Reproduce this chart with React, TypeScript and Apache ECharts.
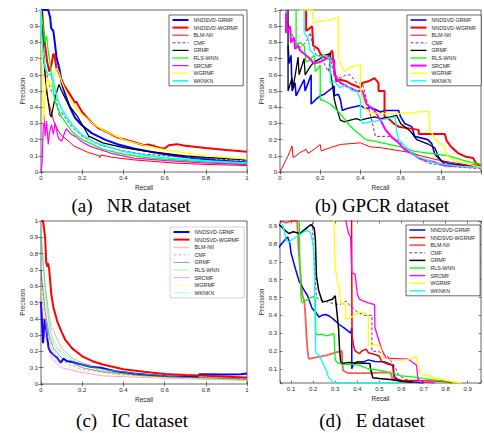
import React, { useEffect, useRef } from 'react';
import * as echarts from 'echarts';

const seriesNames = ['NNDSVD-GRMF', 'NNDSVD-WGRMF', 'BLM-NII', 'CMF', 'GRMF', 'RLS-WNN', 'SRCMF', 'WGRMF', 'WKNKN'];
const panelTitles = ['(a)\u00a0\u00a0 NR dataset', '(b) GPCR dataset', '(c)\u00a0\u00a0 IC dataset', '(d)\u00a0\u00a0 E dataset'];
const xTickLabelsD = ['0.1', '0.2', '0.3', '0.4', '0.5', '0.6', '0.7', '0.8', '0.9'];

// ---------- (a) NR dataset ----------
const nrNndsvdGrmf = [[0,1],[0.035,1],[0.045,0.95],[0.049,0.89],[0.06,0.87],[0.068,0.79],[0.076,0.7],[0.085,0.66],[0.092,0.62],[0.1,0.55],[0.117,0.48],[0.14,0.4],[0.165,0.335],[0.197,0.29],[0.246,0.24],[0.31,0.2],[0.375,0.17],[0.45,0.145],[0.55,0.12],[0.65,0.1],[0.75,0.085],[0.85,0.072],[1,0.058]];
const nrNndsvdWgrmf = [[0.005,1],[0.012,0.88],[0.02,0.78],[0.03,0.68],[0.04,0.62],[0.05,0.66],[0.06,0.73],[0.066,0.72],[0.075,0.64],[0.084,0.62],[0.097,0.58],[0.11,0.54],[0.13,0.5],[0.145,0.47],[0.165,0.427],[0.172,0.435],[0.178,0.417],[0.197,0.376],[0.22,0.34],[0.246,0.304],[0.28,0.27],[0.31,0.253],[0.375,0.211],[0.45,0.185],[0.5,0.165],[0.52,0.17],[0.55,0.16],[0.58,0.148],[0.6,0.145],[0.62,0.165],[0.66,0.172],[0.7,0.162],[0.8,0.148],[0.9,0.136],[1,0.125]];
const nrBlmNii = [[0.003,1],[0.01,0.8],[0.02,0.6],[0.027,0.5],[0.035,0.44],[0.044,0.4],[0.06,0.32],[0.084,0.253],[0.1,0.225],[0.133,0.191],[0.16,0.16],[0.197,0.139],[0.23,0.12],[0.262,0.108],[0.282,0.1],[0.285,0.088],[0.29,0.105],[0.35,0.09],[0.45,0.075],[0.55,0.065],[0.65,0.055],[0.8,0.047],[1,0.04]];
const nrCmf = [[0,1],[0.01,0.8],[0.02,0.66],[0.035,0.56],[0.05,0.5],[0.065,0.47],[0.075,0.44],[0.084,0.376],[0.09,0.34],[0.1,0.37],[0.12,0.33],[0.15,0.28],[0.2,0.22],[0.3,0.16],[0.4,0.13],[0.5,0.11],[0.7,0.09],[1,0.07]];
const nrGrmf = [[0,1],[0.005,0.99],[0.011,0.745],[0.02,0.6],[0.03,0.48],[0.044,0.355],[0.05,0.34],[0.068,0.458],[0.087,0.54],[0.1,0.5],[0.133,0.417],[0.181,0.335],[0.23,0.225],[0.232,0.215],[0.235,0.22],[0.3,0.18],[0.4,0.15],[0.5,0.13],[0.6,0.115],[0.7,0.1],[0.8,0.09],[0.9,0.082],[1,0.075]];
const nrRlsWnn = [[0,1],[0.01,0.9],[0.019,0.8],[0.027,0.84],[0.035,0.745],[0.045,0.66],[0.051,0.6],[0.06,0.5],[0.068,0.437],[0.08,0.4],[0.1,0.34],[0.15,0.25],[0.2,0.2],[0.3,0.14],[0.4,0.11],[0.5,0.09],[0.6,0.08],[0.8,0.063],[1,0.05]];
const nrSrcmf = [[0,0],[0.005,0.05],[0.011,0.293],[0.015,0.35],[0.02,0.22],[0.027,0.314],[0.035,0.17],[0.042,0.25],[0.051,0.293],[0.06,0.232],[0.068,0.3],[0.084,0.21],[0.1,0.19],[0.117,0.25],[0.123,0.267],[0.145,0.235],[0.167,0.22],[0.2,0.185],[0.24,0.158],[0.337,0.117],[0.45,0.086],[0.61,0.07],[0.77,0.058],[1,0.045]];
const nrWgrmf = [[0,1],[0.004,0.75],[0.008,0.55],[0.012,0.3],[0.02,0.48],[0.03,0.58],[0.04,0.55],[0.05,0.52],[0.061,0.6],[0.075,0.64],[0.086,0.62],[0.1,0.56],[0.12,0.5],[0.15,0.43],[0.175,0.385],[0.2,0.355],[0.25,0.3],[0.3,0.26],[0.4,0.2],[0.5,0.165],[0.6,0.138],[0.7,0.118],[0.8,0.102],[0.9,0.09],[1,0.08]];
const nrWknkn = [[0,1],[0.003,0.85],[0.01,0.75],[0.02,0.643],[0.035,0.6],[0.053,0.6],[0.06,0.56],[0.07,0.5],[0.084,0.437],[0.1,0.39],[0.117,0.355],[0.149,0.293],[0.197,0.232],[0.262,0.18],[0.343,0.15],[0.4,0.127],[0.5,0.105],[0.6,0.088],[0.8,0.07],[1,0.055]];

// ---------- (b) GPCR dataset ----------
const gpNndsvdGrmf = [[0.04,0.78],[0.045,0.67],[0.055,0.72],[0.06,0.5],[0.075,0.55],[0.08,0.47],[0.1,0.52],[0.12,0.57],[0.125,0.5],[0.14,0.55],[0.155,0.6],[0.155,0.42],[0.18,0.45],[0.2,0.47],[0.22,0.48],[0.24,0.5],[0.26,0.52],[0.27,0.53],[0.27,0.47],[0.29,0.48],[0.3,0.45],[0.31,0.38],[0.33,0.39],[0.36,0.4],[0.4,0.41],[0.43,0.39],[0.45,0.4],[0.5,0.37],[0.52,0.38],[0.59,0.38],[0.6,0.34],[0.62,0.3],[0.656,0.28],[0.67,0.22],[0.735,0.2],[0.755,0.175],[0.77,0.11],[0.8,0.07],[0.85,0.05],[0.9,0.045],[1,0.04]];
const gpNndsvdWgrmf = [[0.13,1],[0.13,0.87],[0.16,0.9],[0.165,0.78],[0.19,0.76],[0.2,0.73],[0.23,0.7],[0.26,0.75],[0.265,0.68],[0.28,0.56],[0.3,0.57],[0.33,0.56],[0.36,0.54],[0.4,0.52],[0.41,0.55],[0.44,0.56],[0.47,0.58],[0.49,0.55],[0.49,0.5],[0.52,0.5],[0.52,0.34],[0.54,0.33],[0.565,0.3],[0.59,0.28],[0.69,0.26],[0.69,0.235],[0.82,0.235],[0.83,0.19],[0.85,0.158],[0.885,0.117],[0.92,0.096],[0.96,0.086],[0.975,0.055],[1,0.04]];
const gpBlmNii = [[0,0],[0.02,0.05],[0.04,0.1],[0.06,0.16],[0.065,0.09],[0.08,0.1],[0.1,0.12],[0.13,0.14],[0.14,0.115],[0.17,0.14],[0.2,0.17],[0.205,0.13],[0.25,0.15],[0.3,0.17],[0.35,0.175],[0.4,0.18],[0.42,0.17],[0.45,0.155],[0.5,0.15],[0.55,0.14],[0.6,0.13],[0.65,0.12],[0.7,0.1],[0.75,0.085],[0.8,0.07],[0.85,0.06],[0.9,0.05],[1,0.04]];
const gpCmf = [[0.03,1],[0.03,0.94],[0.06,0.85],[0.08,0.8],[0.1,0.77],[0.13,0.8],[0.15,0.86],[0.16,0.8],[0.18,0.72],[0.2,0.72],[0.22,0.67],[0.24,0.62],[0.25,0.7],[0.27,0.6],[0.3,0.58],[0.33,0.6],[0.35,0.6],[0.38,0.55],[0.41,0.55],[0.43,0.45],[0.46,0.3],[0.475,0.22],[0.54,0.22],[0.58,0.2],[0.62,0.16],[0.67,0.11],[0.7,0.08],[0.74,0.055],[0.84,0.035],[1,0.02]];
const gpGrmf = [[0.04,1],[0.04,0.5],[0.06,0.58],[0.065,0.52],[0.08,0.63],[0.09,0.71],[0.095,0.6],[0.11,0.66],[0.12,0.7],[0.125,0.6],[0.15,0.65],[0.17,0.68],[0.2,0.7],[0.22,0.72],[0.25,0.73],[0.25,0.62],[0.26,0.55],[0.27,0.45],[0.28,0.4],[0.29,0.36],[0.3,0.32],[0.32,0.31],[0.35,0.32],[0.38,0.33],[0.4,0.32],[0.43,0.33],[0.47,0.34],[0.5,0.33],[0.55,0.34],[0.58,0.35],[0.6,0.3],[0.65,0.25],[0.68,0.2],[0.74,0.17],[0.77,0.15],[0.79,0.09],[0.82,0.045],[0.9,0.04],[1,0.03]];
const gpRlsWnn = [[0.08,1],[0.08,0.78],[0.1,0.8],[0.12,0.78],[0.13,0.68],[0.146,0.69],[0.17,0.72],[0.175,0.62],[0.19,0.64],[0.2,0.66],[0.2,0.446],[0.22,0.44],[0.25,0.42],[0.28,0.384],[0.3,0.36],[0.344,0.29],[0.377,0.25],[0.4,0.23],[0.426,0.2],[0.47,0.19],[0.508,0.18],[0.59,0.158],[0.67,0.127],[0.75,0.115],[0.836,0.1],[0.93,0.066],[1,0.045]];
const gpSrcmf = [[0.03,0.98],[0.03,0.86],[0.05,0.9],[0.055,0.8],[0.07,0.83],[0.075,0.76],[0.09,0.78],[0.1,0.75],[0.12,0.73],[0.14,0.71],[0.17,0.67],[0.2,0.68],[0.23,0.7],[0.25,0.7],[0.27,0.69],[0.27,0.6],[0.3,0.55],[0.33,0.53],[0.38,0.5],[0.41,0.5],[0.43,0.42],[0.47,0.38],[0.5,0.32],[0.525,0.26],[0.56,0.21],[0.59,0.18],[0.62,0.14],[0.66,0.11],[0.7,0.08],[0.77,0.06],[0.82,0.04],[0.9,0.035],[1,0.03]];
const gpWgrmf = [[0.1,1],[0.164,1],[0.165,0.92],[0.2,0.93],[0.25,0.94],[0.29,0.955],[0.29,0.7],[0.32,0.62],[0.34,0.64],[0.38,0.66],[0.4,0.66],[0.4,0.52],[0.41,0.45],[0.42,0.4],[0.44,0.37],[0.49,0.36],[0.59,0.36],[0.68,0.37],[0.74,0.375],[0.745,0.26],[0.78,0.19],[0.82,0.155],[0.83,0.1],[0.87,0.07],[0.93,0.05],[1,0.03]];
const gpWknkn = [[0.12,1],[0.12,0.86],[0.14,0.82],[0.15,0.75],[0.17,0.73],[0.2,0.71],[0.22,0.72],[0.25,0.7],[0.25,0.55],[0.27,0.56],[0.3,0.52],[0.33,0.54],[0.36,0.5],[0.38,0.51],[0.4,0.45],[0.4,0.35],[0.41,0.3],[0.45,0.31],[0.5,0.32],[0.574,0.34],[0.58,0.25],[0.59,0.2],[0.63,0.15],[0.67,0.1],[0.72,0.08],[0.76,0.06],[0.8,0.05],[0.9,0.035],[1,0.025]];

// ---------- (c) IC dataset ----------
const icNndsvdGrmf = [[0,0.505],[0.01,0.25],[0.018,0.4],[0.026,0.33],[0.037,0.22],[0.045,0.2],[0.06,0.18],[0.078,0.16],[0.094,0.13],[0.11,0.155],[0.126,0.14],[0.15,0.137],[0.175,0.127],[0.207,0.117],[0.24,0.106],[0.29,0.1],[0.37,0.076],[0.45,0.065],[0.53,0.055],[0.61,0.047],[0.7,0.045],[0.76,0.045],[0.77,0.06],[0.9,0.058],[0.97,0.06],[1,0.065]];
const icNndsvdWgrmf = [[0,1],[0.01,1],[0.02,0.9],[0.025,0.75],[0.03,0.72],[0.035,0.74],[0.04,0.7],[0.05,0.55],[0.06,0.47],[0.08,0.38],[0.1,0.32],[0.118,0.27],[0.15,0.22],[0.2,0.17],[0.25,0.14],[0.3,0.12],[0.4,0.09],[0.5,0.075],[0.6,0.062],[0.7,0.055],[0.8,0.05],[0.9,0.045],[1,0.04]];
const icBlmNii = [[0,0.9],[0.02,0.6],[0.04,0.42],[0.05,0.34],[0.06,0.33],[0.08,0.27],[0.1,0.22],[0.15,0.16],[0.2,0.13],[0.3,0.09],[0.4,0.07],[0.6,0.05],[0.8,0.04],[1,0.03]];
const icCmf = [[0,0.65],[0.02,0.4],[0.05,0.22],[0.1,0.14],[0.2,0.09],[0.4,0.055],[0.7,0.04],[1,0.03]];
const icGrmf = [[0,0.7],[0.02,0.45],[0.04,0.3],[0.06,0.22],[0.1,0.16],[0.2,0.1],[0.3,0.075],[0.5,0.05],[0.75,0.04],[1,0.03]];
const icRlsWnn = [[0,0.95],[0.02,0.6],[0.04,0.35],[0.06,0.25],[0.08,0.21],[0.1,0.2],[0.12,0.18],[0.15,0.15],[0.2,0.12],[0.3,0.08],[0.5,0.05],[0.75,0.035],[1,0.02]];
const icSrcmf = [[0,0.5],[0.02,0.3],[0.05,0.16],[0.08,0.12],[0.1,0.1],[0.2,0.07],[0.3,0.05],[0.5,0.04],[0.75,0.03],[1,0.025]];
const icWgrmf = [[0,0.6],[0.03,0.3],[0.06,0.18],[0.1,0.12],[0.2,0.08],[0.4,0.05],[0.7,0.035],[1,0.02]];
const icWknkn = [[0,0.95],[0.02,0.55],[0.03,0.45],[0.05,0.3],[0.1,0.18],[0.15,0.14],[0.2,0.12],[0.3,0.09],[0.5,0.06],[0.7,0.04],[1,0.03]];

// ---------- (d) E dataset ----------
const eNndsvdGrmf = [[0.045,0.78],[0.055,0.8],[0.07,0.82],[0.085,0.84],[0.095,0.8],[0.1,0.75],[0.12,0.66],[0.137,0.59],[0.155,0.55],[0.175,0.51],[0.195,0.44],[0.21,0.42],[0.227,0.39],[0.24,0.4],[0.257,0.405],[0.275,0.395],[0.29,0.38],[0.317,0.35],[0.34,0.33],[0.36,0.31],[0.37,0.3],[0.375,0.33],[0.375,0.1],[0.38,0.12],[0.4,0.14],[0.43,0.14],[0.45,0.15],[0.48,0.141],[0.52,0.14],[0.563,0.12],[0.565,0.08],[0.57,0.05],[0.6,0.03],[0.65,0.025],[0.7,0.02]];
const eNndsvdWgrmf = [[0.374,0.95],[0.375,0.6],[0.376,0.3],[0.38,0.25],[0.385,0.22],[0.39,0.2],[0.41,0.185],[0.42,0.2],[0.44,0.21],[0.45,0.19],[0.48,0.18],[0.5,0.17],[0.51,0.14],[0.53,0.13],[0.56,0.12],[0.565,0.06],[0.57,0.04],[0.6,0.035],[0.7,0.032],[0.8,0.03],[0.83,0.02]];
const eBlmNii = [[0.05,0.93],[0.08,0.92],[0.1,0.93],[0.128,0.93],[0.135,0.75],[0.145,0.6],[0.151,0.513],[0.16,0.48],[0.165,0.4],[0.17,0.28],[0.175,0.2],[0.18,0.155],[0.22,0.165],[0.26,0.175],[0.3,0.19],[0.33,0.2],[0.335,0.09],[0.36,0.075],[0.45,0.075],[0.5,0.078],[0.55,0.08],[0.56,0.04],[0.6,0.03],[0.65,0.025]];
const eCmf = [[0.197,0.95],[0.2,0.8],[0.21,0.6],[0.215,0.5],[0.227,0.49],[0.25,0.48],[0.28,0.47],[0.32,0.46],[0.35,0.48],[0.37,0.45],[0.4,0.42],[0.43,0.4],[0.466,0.4],[0.466,0.2],[0.5,0.195],[0.54,0.167],[0.57,0.11],[0.59,0.06],[0.62,0.04],[0.65,0.03],[0.7,0.02]];
const eGrmf = [[0.045,0.91],[0.06,0.895],[0.07,0.88],[0.09,0.86],[0.11,0.87],[0.14,0.86],[0.16,0.88],[0.19,0.91],[0.205,0.89],[0.21,0.83],[0.215,0.62],[0.225,0.54],[0.242,0.475],[0.26,0.48],[0.287,0.49],[0.3,0.51],[0.305,0.45],[0.315,0.33],[0.32,0.2],[0.325,0.14],[0.33,0.13],[0.36,0.135],[0.4,0.132],[0.457,0.13],[0.46,0.1],[0.47,0.05],[0.5,0.045],[0.55,0.04],[0.57,0.035],[0.6,0.03],[0.65,0.025]];
const eRlsWnn = [[0.137,0.95],[0.14,0.7],[0.145,0.5],[0.15,0.47],[0.16,0.48],[0.175,0.49],[0.19,0.5],[0.2,0.505],[0.21,0.49],[0.212,0.3],[0.22,0.29],[0.24,0.295],[0.26,0.285],[0.28,0.29],[0.29,0.3],[0.295,0.29],[0.3,0.15],[0.31,0.135],[0.33,0.125],[0.37,0.125],[0.407,0.12],[0.45,0.1],[0.51,0.09],[0.55,0.075],[0.6,0.06],[0.66,0.053],[0.72,0.04],[0.81,0.03],[0.85,0.02]];
const eSrcmf = [[0.345,0.95],[0.36,0.86],[0.37,0.84],[0.375,0.64],[0.39,0.63],[0.4,0.52],[0.41,0.49],[0.45,0.47],[0.478,0.46],[0.48,0.33],[0.5,0.25],[0.51,0.21],[0.53,0.16],[0.6,0.155],[0.63,0.155],[0.668,0.12],[0.675,0.04],[0.7,0.025],[0.75,0.02]];
const eWgrmf = [[0.295,0.95],[0.3,0.66],[0.317,0.56],[0.325,0.47],[0.33,0.46],[0.34,0.47],[0.347,0.47],[0.347,0.38],[0.36,0.38],[0.414,0.42],[0.45,0.4],[0.45,0.233],[0.5,0.233],[0.52,0.158],[0.55,0.15],[0.6,0.148],[0.64,0.155],[0.668,0.167],[0.68,0.085],[0.69,0.07],[0.75,0.05],[0.8,0.035],[0.87,0.02]];
const eWknkn = [[0.06,0.915],[0.07,0.87],[0.076,0.83],[0.09,0.81],[0.11,0.83],[0.137,0.85],[0.16,0.87],[0.175,0.88],[0.19,0.86],[0.203,0.775],[0.207,0.5],[0.21,0.3],[0.212,0.19],[0.22,0.18],[0.23,0.17],[0.248,0.12],[0.26,0.09],[0.27,0.05],[0.29,0.025],[0.33,0.022],[0.45,0.02],[0.6,0.02]];

const panelData = [
  [nrNndsvdGrmf, nrNndsvdWgrmf, nrBlmNii, nrCmf, nrGrmf, nrRlsWnn, nrSrcmf, nrWgrmf, nrWknkn],
  [gpNndsvdGrmf, gpNndsvdWgrmf, gpBlmNii, gpCmf, gpGrmf, gpRlsWnn, gpSrcmf, gpWgrmf, gpWknkn],
  [icNndsvdGrmf, icNndsvdWgrmf, icBlmNii, icCmf, icGrmf, icRlsWnn, icSrcmf, icWgrmf, icWknkn],
  [eNndsvdGrmf, eNndsvdWgrmf, eBlmNii, eCmf, eGrmf, eRlsWnn, eSrcmf, eWgrmf, eWknkn],
];

// styles
const lineColors = ['#0000ff', '#ff0000', '#ff0000', '#7e2f8e', '#000000', '#00ff00', '#ff00ff', '#ffff00', '#00ffff'];
const lineWidths = [
  [2, 2, 1, 1, 1.2, 1.2, 1.2, 1.2, 1.5],
  [1.6, 2, 1, 1, 1.3, 1.3, 2, 1.3, 1.3],
  [2, 2, 0.8, 0.8, 0.8, 0.8, 0.8, 0.8, 0.8],
  [1.5, 1.5, 1.8, 1, 1.5, 1.3, 1.3, 1.3, 1.3],
];
const lineOpacity = [
  [1, 1, 1, 1, 1, 1, 1, 1, 1],
  [1, 1, 1, 1, 1, 1, 1, 1, 1],
  [1, 1, 0.45, 0.5, 0.5, 0.5, 0.5, 0.6, 0.5],
  [1, 1, 0.65, 1, 1, 1, 1, 1, 1],
];
const grids = [
  { left: 41, top: 10, width: 206, height: 162 },
  { left: 280, top: 10, width: 203, height: 162 },
  { left: 41, top: 221, width: 206, height: 163 },
  { left: 280, top: 221, width: 203, height: 162 },
];
const legendPos = [
  { left: 169, top: 15, border: '#262626' },
  { left: 407, top: 15, border: '#262626' },
  { left: 170, top: 227, border: '#c0c0c0' },
  { left: 406, top: 225, border: '#262626' },
];
const titlePos = [
  { x: 131, y: 205 },
  { x: 382, y: 205 },
  { x: 132, y: 420 },
  { x: 372, y: 420 },
];

const AX = '#262626';
const FONT = '"Liberation Sans", Arial, sans-serif';
const suffix = (p: number) => '\u200b'.repeat(p);
const tenth = (v: number) => {
  const r = Math.round(v * 10) / 10;
  return Math.abs(v - r) < 1e-6 ? String(r) : '';
};

function buildOption() {
  const xAxis: any[] = [];
  const yAxis: any[] = [];
  const baseAxis = {
    axisLine: { show: false },
    splitLine: { show: false },
    axisTick: { show: true, inside: true, length: 2.5, lineStyle: { color: AX, width: 0.6 } },
    axisLabel: { fontSize: 6, color: AX, fontFamily: FONT, margin: 3 },
  };
  for (let mirror = 0; mirror < 2; mirror++) {
    for (let p = 0; p < 4; p++) {
      const isD = p === 3;
      const xa: any = {
        type: 'value',
        gridIndex: p,
        position: mirror ? 'top' : 'bottom',
        ...baseAxis,
        axisLabel: {
          ...baseAxis.axisLabel,
          show: !mirror,
          formatter: (v: number) => {
            if (isD) { const s = tenth(v); return xTickLabelsD.includes(s) ? s : ''; }
            if (p === 1 && v > 0.999) return '';
            return tenth(v);
          },
        },
        name: mirror ? '' : 'Recall',
        nameLocation: 'middle',
        nameGap: 12,
        nameTextStyle: { fontSize: 6.5, color: AX, fontFamily: FONT },
      };
      if (isD) { xa.min = 0.05; xa.max = 0.96; xa.splitNumber = 9; }
      else { xa.min = 0; xa.max = 1; xa.interval = 0.2; }
      xAxis.push(xa);
      const ya: any = {
        type: 'value',
        gridIndex: p,
        position: mirror ? 'right' : 'left',
        ...baseAxis,
        axisLabel: {
          ...baseAxis.axisLabel,
          show: !mirror,
          formatter: (v: number) => {
            if (isD) { const s = tenth(v); return xTickLabelsD.includes(s) ? s : ''; }
            return tenth(v);
          },
        },
        name: mirror ? '' : 'Precision',
        nameLocation: 'middle',
        nameGap: p % 2 === 0 ? 14 : 13,
        nameTextStyle: { fontSize: 6.5, color: AX, fontFamily: FONT },
      };
      if (isD) { ya.min = 0.02; ya.max = 0.93; ya.splitNumber = 9; }
      else { ya.min = 0; ya.max = 1; ya.interval = 0.1; }
      yAxis.push(ya);
    }
  }

  const series: any[] = [];
  const legends: any[] = [];
  for (let p = 0; p < 4; p++) {
    const names: string[] = [];
    seriesNames.forEach((n, i) => {
      const name = n + suffix(p);
      names.push(name);
      series.push({
        type: 'line',
        name,
        xAxisIndex: p,
        yAxisIndex: p,
        data: panelData[p][i],
        symbol: 'none',
        showSymbol: false,
        silent: true,
        clip: true,
        color: lineColors[i],
        lineStyle: {
          color: lineColors[i],
          width: lineWidths[p][i],
          type: n === 'CMF' ? [3, 2] : 'solid',
          opacity: lineOpacity[p][i],
        },
      });
    });
    legends.push({
      data: names,
      orient: 'vertical',
      left: legendPos[p].left,
      top: legendPos[p].top,
      itemWidth: 16,
      itemHeight: 5,
      itemGap: 2.6,
      padding: [2.5, 5, 2.5, 2.5],
      backgroundColor: '#ffffff',
      borderColor: legendPos[p].border,
      borderWidth: 0.7,
      borderRadius: 0,
      selectedMode: false,
      itemStyle: { opacity: 0, borderWidth: 0 },
      lineStyle: { width: 'inherit', type: 'inherit', opacity: 'inherit' },
      textStyle: { fontSize: 5.3, lineHeight: 5, color: AX, fontFamily: FONT },
      formatter: (name: string) => name.replace(/\u200b/g, ''),
    });
  }

  const graphic = panelTitles.map((t, p) => ({
    type: 'text',
    x: titlePos[p].x,
    y: titlePos[p].y,
    style: {
      text: t,
      font: '19px "Liberation Serif", "Times New Roman", serif',
      fill: '#000',
      textAlign: 'center',
      textVerticalAlign: 'middle',
      align: 'center',
      verticalAlign: 'middle',
    },
  }));

  return {
    animation: false,
    backgroundColor: '#ffffff',
    grid: grids.map((g) => ({ ...g, show: true, borderColor: AX, borderWidth: 0.7, backgroundColor: '#ffffff', containLabel: false })),
    xAxis,
    yAxis,
    legend: legends,
    series,
    graphic,
  };
}

export default function App() {
  const ref = useRef<HTMLDivElement>(null);
  useEffect(() => {
    if (!ref.current) return;
    const chart = echarts.init(ref.current, undefined, { renderer: 'svg' });
    chart.setOption(buildOption() as any);
    return () => chart.dispose();
  }, []);
  return (
    <div
      ref={ref}
      style={{ position: 'absolute', left: 0, top: 0, width: 484, height: 433, background: '#fff' }}
    />
  );
}
